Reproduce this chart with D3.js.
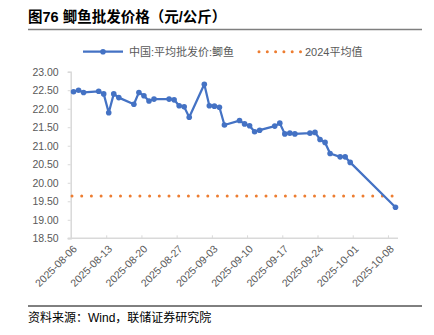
<!DOCTYPE html>
<html><head><meta charset="utf-8">
<script src="https://cdn.jsdelivr.net/npm/d3@7"></script>
<style>html,body{margin:0;padding:0;background:#fff;}svg{display:block;}</style>
</head><body>
<script>
const title = "图76 鲫鱼批发价格（元/公斤）";
const source = "资料来源：Wind，联储证券研究院";
const seriesName = "中国:平均批发价:鲫鱼";
const avgName = "2024平均值";
const dates = ["2025-08-06","2025-08-07","2025-08-08","2025-08-11","2025-08-12","2025-08-13","2025-08-14","2025-08-15",
"2025-08-18","2025-08-19","2025-08-20","2025-08-21","2025-08-22","2025-08-25","2025-08-26","2025-08-27","2025-08-28","2025-08-29",
"2025-09-01","2025-09-02","2025-09-03","2025-09-04","2025-09-05","2025-09-08","2025-09-09","2025-09-10","2025-09-11","2025-09-12",
"2025-09-15","2025-09-16","2025-09-17","2025-09-18","2025-09-19","2025-09-22","2025-09-23","2025-09-24","2025-09-25","2025-09-26",
"2025-09-28","2025-09-29","2025-09-30","2025-10-09"];
const prices = [22.46,22.50,22.44,22.47,22.40,21.89,22.40,22.30,
22.12,22.44,22.35,22.21,22.26,22.26,22.24,22.08,22.05,21.77,
22.66,22.08,22.07,22.04,21.56,21.68,21.59,21.54,21.38,21.42,
21.53,21.61,21.32,21.34,21.32,21.34,21.36,21.17,21.09,20.79,
20.70,20.70,20.55,19.34];
const avg2024 = 19.64;
const yTicks = [18.5,19,19.5,20,20.5,21,21.5,22,22.5,23];
const xTickLabels = ["2025-08-06","2025-08-13","2025-08-20","2025-08-27","2025-09-03","2025-09-10","2025-09-17","2025-09-24","2025-10-01","2025-10-08"];
const xDomain = ["2025-08-06","2025-10-10"];

const W = 434, H = 335;
const FONT = "'Liberation Sans', Arial, 'Noto Sans CJK SC', sans-serif";
const parse = d3.utcParse("%Y-%m-%d");
const svg = d3.select("body").append("svg").attr("width", W).attr("height", H)
  .style("font-family", FONT);
svg.append("rect").attr("width", W).attr("height", H).attr("fill", "#fff");

const x = d3.scaleUtc().domain(xDomain.map(parse)).range([71, 398]);
const y = d3.scaleLinear().domain([18.5, 23]).range([238.3, 71.7]);
const half = 12 * 3600 * 1000;
const px = d => x(new Date(parse(d).getTime() + half));

// title
svg.append("text").attr("x", 28).attr("y", 21.5).attr("font-size", 14.5).attr("font-weight", "bold")
  .attr("font-family", FONT).attr("fill", "#000").text(title);
svg.append("line").attr("x1", 28).attr("x2", 422).attr("y1", 29.5).attr("y2", 29.5)
  .attr("stroke", "#7f7f7f").attr("stroke-width", 1.5);

// y axis
const yAxis = svg.append("g").attr("transform", "translate(70.7,0)")
  .call(d3.axisLeft(y).tickValues(yTicks).tickFormat(d3.format(".2f")).tickSize(3).tickPadding(9));
yAxis.select(".domain").attr("stroke", "#d9d9d9").attr("stroke-width", 1.5);
yAxis.selectAll(".tick line").attr("stroke", "#d9d9d9").attr("stroke-width", 1);
yAxis.selectAll("text").attr("fill", "#595959").attr("font-size", 10.5).attr("font-family", FONT);

// x axis
const xAxis = svg.append("g").attr("transform", "translate(0,238.3)")
  .call(d3.axisBottom(x).tickValues(xTickLabels.map(parse)).tickSize(-3).tickFormat(""));
xAxis.select(".domain").attr("d", "M67.7,0H398").attr("stroke", "#d9d9d9").attr("stroke-width", 1.5);
xAxis.selectAll(".tick line").attr("stroke", "#d9d9d9").attr("stroke-width", 1);
xTickLabels.forEach(t => {
  const tx = x(parse(t));
  svg.append("text").attr("transform", `translate(${tx + 4},${247}) rotate(-45)`)
    .attr("text-anchor", "end").attr("font-size", 10.5).attr("fill", "#595959")
    .attr("dy", "0.35em").text(t);
});

// average line
svg.append("line").attr("x1", 72).attr("x2", 398).attr("y1", y(avg2024)).attr("y2", y(avg2024))
  .attr("stroke", "#ED7D31").attr("stroke-width", 3).attr("stroke-linecap", "round")
  .attr("stroke-dasharray", "0 9.7");

// series
const pts = dates.map((d, i) => [px(d), y(prices[i])]);
svg.append("path").attr("d", d3.line()(pts)).attr("fill", "none").attr("stroke", "#4472C4")
  .attr("stroke-width", 2.25).attr("stroke-linejoin", "round");
svg.selectAll("circle.pt").data(pts).enter().append("circle").attr("class", "pt")
  .attr("cx", d => d[0]).attr("cy", d => d[1]).attr("r", 2.8).attr("fill", "#4472C4");

// legend
const ly = 51.7;
svg.append("line").attr("x1", 83).attr("x2", 123).attr("y1", ly).attr("y2", ly)
  .attr("stroke", "#4472C4").attr("stroke-width", 2.25);
svg.append("circle").attr("cx", 103).attr("cy", ly).attr("r", 2.8).attr("fill", "#4472C4");
svg.append("text").attr("x", 129).attr("y", ly).attr("dy", "0.35em").attr("font-size", 11)
  .attr("fill", "#595959").attr("font-family", FONT).text(seriesName);
svg.append("line").attr("x1", 259).attr("x2", 302).attr("y1", ly).attr("y2", ly)
  .attr("stroke", "#ED7D31").attr("stroke-width", 3).attr("stroke-linecap", "round")
  .attr("stroke-dasharray", "0 8.3");
svg.append("text").attr("x", 305).attr("y", ly).attr("dy", "0.35em").attr("font-size", 11)
  .attr("fill", "#595959").attr("font-family", FONT).text(avgName);

// source
svg.append("line").attr("x1", 28).attr("x2", 422).attr("y1", 306).attr("y2", 306)
  .attr("stroke", "#000").attr("stroke-width", 1);
svg.append("text").attr("x", 28).attr("y", 317.5).attr("dy", "0.35em").attr("font-size", 12)
  .attr("fill", "#000").attr("font-family", FONT).text(source);
</script>
</body></html>
